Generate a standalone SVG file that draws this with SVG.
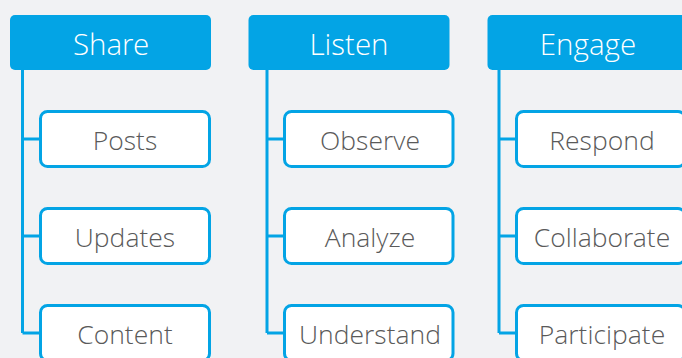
<svg xmlns="http://www.w3.org/2000/svg" width="682" height="358" viewBox="0 0 682 358">
  <style>
    .head rect { fill: #03a4e5; }
    .head text { fill: #ffffff; font-family: "Open Sans Light", "Open Sans", "Liberation Sans", sans-serif; font-weight: 300; font-size: 29.5px; text-anchor: middle; }
    .item rect { fill: #ffffff; stroke: #03a4e5; stroke-width: 3; }
    .item text { fill: #5a5a5a; font-family: "Open Sans Light", "Open Sans", "Liberation Sans", sans-serif; font-weight: 300; font-size: 26.5px; text-anchor: middle; }
    .links path { fill: none; stroke: #03a4e5; stroke-width: 3; }
  </style>
  <rect x="0" y="0" width="682" height="358" fill="#f1f2f4"/>

  <!-- connectors: spine from each header with branches to its items -->
  <g id="connectors" class="links">
    <path d="M22.5 68 V333 M22.5 139 H40.5 M22.5 236 H40.5 M22.5 333 H40.5"/>
    <path d="M267 68 V333 M267 139 H284.5 M267 236 H284.5 M267 333 H284.5"/>
    <path d="M499 68 V333 M499 139 H516.5 M499 236 H516.5 M499 333 H516.5"/>
  </g>

  <!-- column headers -->
  <g id="share" class="head">
    <rect x="10" y="15" width="201" height="55" rx="5"/>
    <text x="111" y="54.5">Share</text>
  </g>
  <g id="listen" class="head">
    <rect x="248.5" y="15" width="201" height="55" rx="5"/>
    <text x="349" y="54.5">Listen</text>
  </g>
  <g id="engage" class="head">
    <rect x="487.5" y="15" width="201" height="55" rx="5"/>
    <text x="588" y="54.5">Engage</text>
  </g>

  <!-- Share items -->
  <g id="posts" class="item">
    <rect x="40.5" y="111.5" width="169" height="55" rx="7"/>
    <text x="125" y="150">Posts</text>
  </g>
  <g id="updates" class="item">
    <rect x="40.5" y="208.5" width="169" height="55" rx="7"/>
    <text x="125" y="246.5">Updates</text>
  </g>
  <g id="content" class="item">
    <rect x="40.5" y="305.5" width="169" height="55" rx="7"/>
    <text x="125" y="343.5">Content</text>
  </g>

  <!-- Listen items -->
  <g id="observe" class="item">
    <rect x="284.5" y="111.5" width="168.5" height="55" rx="7"/>
    <text x="370" y="150">Observe</text>
  </g>
  <g id="analyze" class="item">
    <rect x="284.5" y="208.5" width="168.5" height="55" rx="7"/>
    <text x="370" y="246.5">Analyze</text>
  </g>
  <g id="understand" class="item">
    <rect x="284.5" y="305.5" width="168.5" height="55" rx="7"/>
    <text x="370" y="343.5">Understand</text>
  </g>

  <!-- Engage items -->
  <g id="respond" class="item">
    <rect x="516.5" y="111.5" width="168.5" height="55" rx="7"/>
    <text x="602" y="150">Respond</text>
  </g>
  <g id="collaborate" class="item">
    <rect x="516.5" y="208.5" width="168.5" height="55" rx="7"/>
    <text x="602" y="246.5">Collaborate</text>
  </g>
  <g id="participate" class="item">
    <rect x="516.5" y="305.5" width="168.5" height="55" rx="7"/>
    <text x="602" y="343.5">Participate</text>
  </g>
</svg>
